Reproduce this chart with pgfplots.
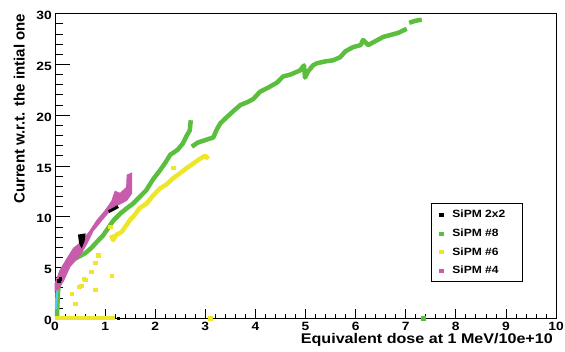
\documentclass[border=0pt]{standalone}
\usepackage{pgfplots}
\pgfplotsset{compat=1.18}
\usepackage{fontspec}
\setmainfont{Liberation Sans}
\newfontfamily\wide[FakeStretch=1.15]{Liberation Sans}
\definecolor{rgreen}{RGB}{92,190,62}
\definecolor{ryellow}{RGB}{238,230,40}
\definecolor{rmag}{RGB}{200,92,172}
\definecolor{rcyan}{RGB}{90,200,230}
\begin{document}
\begin{tikzpicture}
\useasboundingbox (0,0) rectangle (565pt,352pt);
\pgfplotsset{common/.style={scale only axis, width=501pt, height=304.7pt,
  xmin=0, xmax=10, ymin=0, ymax=30, at={(55pt,33.7pt)}, anchor=south west,
  axis line style={line width=0.9pt}, tick style={black, line width=0.7pt},
  tick align=inside, minor tick num=4,
  /pgf/number format/assume math mode=true,
  ticklabel style={font=\wide\bfseries\fontsize{12}{12}\selectfont}}}
% x ticks axis
\begin{axis}[common, ytick=\empty, xtick={0,1,...,10}, xtick pos=left,
  major tick length=9pt, minor tick length=4.5pt,
  xticklabel style={anchor=north, inner sep=0pt, yshift=-3.5pt}]
\end{axis}
% main axis
\begin{axis}[common, xtick=\empty, ytick={0,5,...,30}, ytick pos=left,
  major tick length=15pt, minor tick length=7.5pt, clip=false,
  yticklabel style={anchor=east, inner sep=0pt, xshift=-3pt, yshift=-2pt},
  xlabel={Equivalent dose at 1 MeV/10e+10},
  every axis x label/.style={at={(rel axis cs:1,0)}, anchor=base east, yshift=-25pt, xshift=-3pt, inner sep=0pt, font=\wide\bfseries\fontsize{14}{14}\selectfont},
  ylabel={Current w.r.t. the intial one},
  every axis y label/.style={at={(rel axis cs:0,1)}, rotate=90, anchor=south east, yshift=30pt, inner sep=0pt, font=\bfseries\fontsize{15}{15}\selectfont},
  legend style={at={(rel axis cs:0.7505,0.3774)}, anchor=north west, draw=black, line width=0.9pt,
    inner xsep=8pt, inner ysep=6pt, row sep=8.7pt, column sep=8pt,
    nodes={inner sep=0pt, text height=8pt, text depth=2pt},
    font=\wide\bfseries\fontsize{10.5}{10.5}\selectfont},
  legend cell align=left]
\addlegendimage{black, legend image code/.code={\fill (0pt,-1.5pt) rectangle (4pt,1.5pt);}}
\addlegendentry{\makebox[62pt][l]{SiPM 2x2}}
\addlegendimage{rgreen, legend image code/.code={\fill (0pt,-1.5pt) rectangle (4pt,1.5pt);}}
\addlegendentry{\makebox[62pt][l]{SiPM \#8}}
\addlegendimage{ryellow, legend image code/.code={\fill (0pt,-1.5pt) rectangle (4pt,1.5pt);}}
\addlegendentry{\makebox[62pt][l]{SiPM \#6}}
\addlegendimage{rmag, legend image code/.code={\fill (0pt,-1.5pt) rectangle (4pt,1.5pt);}}
\addlegendentry{\makebox[62pt][l]{SiPM \#4}}
% ---- SiPM #8 (green)
\addplot[rgreen, line width=4.5pt, line join=round, forget plot] coordinates {
(0.04,0.2) (0.05,1.5) (0.06,2.6) (0.08,3.6) (0.12,4.5) (0.2,5.2) (0.3,5.6) (0.45,6.0)
(0.6,6.4) (0.72,6.9) (0.85,7.6) (0.95,8.1) (1.05,8.8) (1.16,9.6) (1.3,10.3) (1.45,10.9)
(1.56,11.3) (1.7,12.0) (1.82,12.6) (1.96,13.7) (2.1,14.6) (2.2,15.3) (2.3,16.1)
(2.45,16.6) (2.55,17.2) (2.62,17.9) (2.69,18.5) (2.71,19.5)};
\addplot[rgreen, line width=4.5pt, line join=round, forget plot] coordinates {
(2.73,16.9) (2.85,17.3) (3.03,17.6) (3.16,17.8) (3.23,18.6) (3.3,19.2) (3.45,19.9)
(3.56,20.4) (3.7,21.0) (3.85,21.3) (3.96,21.6) (4.09,22.3) (4.25,22.7) (4.43,23.2)
(4.55,23.8) (4.7,24.0) (4.89,24.4) (4.97,24.9) (4.99,23.7) (5.05,24.3) (5.15,24.9)
(5.22,25.1) (5.4,25.3) (5.55,25.4) (5.69,25.7) (5.8,26.3) (5.95,26.7) (6.1,26.9)
(6.15,27.4) (6.25,26.9) (6.4,27.3) (6.55,27.7) (6.7,27.9) (6.85,28.1) (7.02,28.5)};
\addplot[rgreen, line width=4.5pt, line join=round, forget plot] coordinates {
(7.07,29.1) (7.2,29.3) (7.32,29.4)};
\addplot[rgreen, only marks, mark=square*, mark size=1.6pt, forget plot] coordinates {(7.35,0)};
% cyan
\addplot[rcyan, line width=2.5pt, forget plot] coordinates {(0.02,0.9) (0.03,2.0) (0.04,3.0)};
% ---- SiPM #6 (yellow)
\addplot[ryellow, line width=4pt, forget plot] coordinates {(0,0) (1.2,0)};
\addplot[ryellow, only marks, mark=square*, mark size=1.7pt, forget plot] coordinates {
(3.1,0) (0.40,1.45) (0.33,2.4) (0.48,3.1) (0.52,3.2) (0.57,3.9) (0.6,3.8) (0.72,4.6)
(0.80,5.5) (0.86,6.2) (0.80,2.8) (1.13,4.2) (2.36,14.8) (1.1,9.0)};
\addplot[ryellow, line width=4.5pt, line join=round, forget plot] coordinates {
(1.12,8.2) (1.16,7.7) (1.22,8.2) (1.33,8.5) (1.43,9.2) (1.5,9.7) (1.56,10.0)
(1.7,10.9) (1.83,11.3) (1.96,12.1) (2.1,12.8) (2.23,13.2) (2.36,13.8) (2.5,14.3)
(2.63,14.8) (2.75,15.2) (2.89,15.7) (3.0,16.0) (3.06,15.7)};
% ---- SiPM #4 (magenta)
\addplot[rmag, fill=rmag, line width=1pt, forget plot] coordinates {
(0.0,3.4) (0.1,4.7) (0.23,5.8) (0.37,6.9) (0.5,7.4) (0.70,8.6) (0.83,9.6) (1.0,10.6)
(1.13,11.5) (1.2,12.5) (1.3,12.3) (1.43,12.9) (1.44,14.1) (1.53,14.3)
(1.53,12.3) (1.43,11.6) (1.23,11.1) (1.1,10.6) (0.96,9.8) (0.76,8.6) (0.63,7.3)
(0.5,6.2) (0.3,5.1) (0.17,3.7) (0.07,2.9) (0.0,2.7)} -- cycle;
% ---- SiPM 2x2 (black)
\addplot[black, fill=black, line width=1pt, forget plot] coordinates {
(0.47,8.2) (0.6,8.3) (0.58,7.6) (0.53,7.0) (0.49,7.4)} -- cycle;
\addplot[black, line width=3pt, forget plot] coordinates {(1.07,10.5) (1.15,10.7) (1.26,11.0)};
\addplot[black, only marks, mark=square*, mark size=1.3pt, forget plot] coordinates {
(0.07,3.7) (0.1,3.9) (1.26,0)};
\end{axis}
\end{tikzpicture}
\end{document}
